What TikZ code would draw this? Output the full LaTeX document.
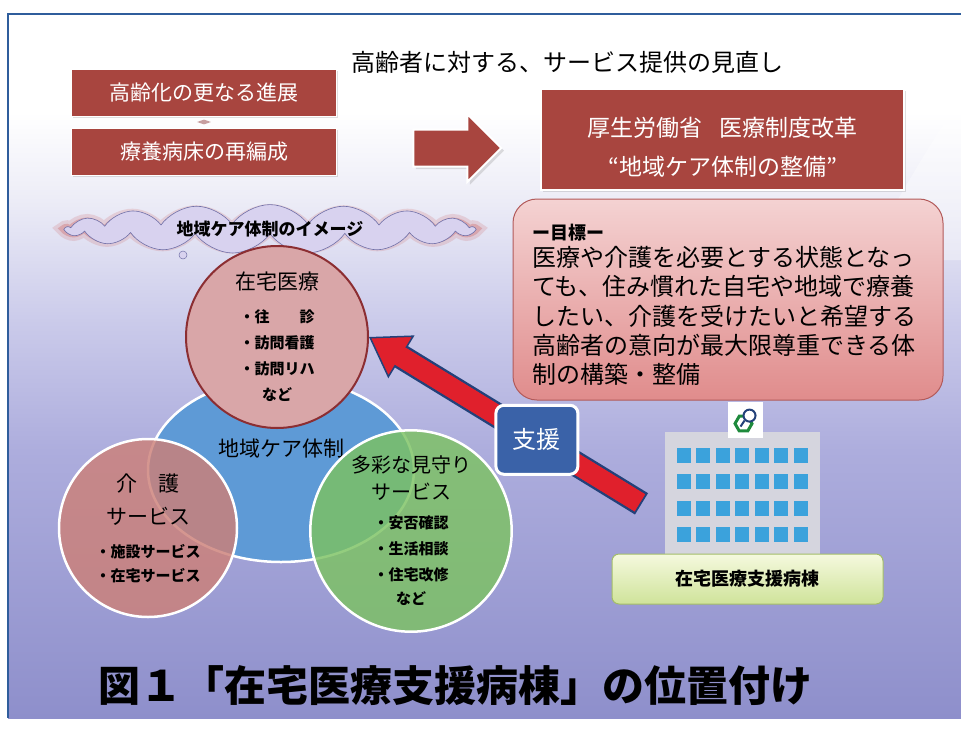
\documentclass[tikz,border=0pt]{standalone}
\usepackage{fontspec}
\setmainfont{Noto Sans CJK JP}
\usetikzlibrary{shapes, shapes.geometric, shapes.symbols, shapes.arrows, arrows.meta, positioning, calc, shadows}
\definecolor{boxred}{HTML}{A8453F}
\definecolor{goaltop}{HTML}{F4D2D2}
\definecolor{goalbottom}{HTML}{E08C8C}
\definecolor{goalline}{HTML}{B25A5A}
\definecolor{cloudfill}{HTML}{D8D2EF}
\definecolor{cloudline}{HTML}{7070A8}
\definecolor{cloudglow}{HTML}{CC6464}
\definecolor{homepink}{HTML}{D9A6A8}
\definecolor{homeline}{HTML}{8C2E32}
\definecolor{careblue}{HTML}{5E9AD6}
\definecolor{nursepink}{HTML}{CC8078}
\definecolor{watchgreen}{HTML}{7CC262}
\definecolor{arrowred}{HTML}{E0202C}
\definecolor{arrowblue}{HTML}{23417A}
\definecolor{helpblue}{HTML}{3A62A8}
\definecolor{buildgray}{HTML}{D5D5DE}
\definecolor{windowblue}{HTML}{3BA2DC}
\definecolor{logogreen}{HTML}{1E8A3C}
\definecolor{labeltop}{HTML}{F5F9DE}
\definecolor{labelbottom}{HTML}{CFE39A}
\definecolor{labelline}{HTML}{A3BD68}
\definecolor{framecol}{HTML}{2F5D9C}
\definecolor{bgbottom}{HTML}{8E8FCB}
\definecolor{bgmid}{HTML}{ADADDD}
\definecolor{bglight}{HTML}{CACAEA}
\definecolor{bgpale}{HTML}{EDEDF7}
\pgfdeclareverticalshading{bgshade}{100bp}{color(0bp)=(bgbottom); color(25bp)=(bgbottom); color(44bp)=(bgmid); color(53bp)=(bglight); color(62bp)=(bgpale); color(68bp)=(white); color(100bp)=(white)}

\begin{document}
\begin{tikzpicture}[x=1pt, y=-1pt,
                    node distance=11pt and 20pt,
                    redbox/.style={rectangle, draw=white, line width=1pt, fill=boxred, text=white, minimum height=47pt, minimum width=265pt, font=\fontsize{21}{25}\selectfont, drop shadow={opacity=0.25, shadow xshift=1.5pt, shadow yshift=-1.5pt}},
                    bigarrow/.style={single arrow, single arrow head extend=15.5pt, inner xsep=0pt, inner ysep=17.5pt, minimum height=88pt, fill=boxred, draw=white, line width=2pt, drop shadow={opacity=0.25}},
                    goalbox/.style={rectangle, rounded corners=24pt, draw=goalline, line width=1pt, top color=goaltop, bottom color=goalbottom, minimum width=430pt, minimum height=201pt, text width=392pt, inner xsep=19pt, align=left, font=\fontsize{24}{29.25}\selectfont},
                    imagecloud/.style={cloud, cloud puffs=17, cloud puff arc=110, aspect=11, minimum width=408pt, minimum height=36pt, inner sep=0pt},
                    homecare/.style={circle, draw=homeline, line width=2pt, fill=homepink, minimum size=182pt, align=center, font=\fontsize{15}{26}\selectfont\bfseries},
                    service/.style={circle, draw=white, line width=2.5pt, fill opacity=0.82, text opacity=1, minimum size=178pt, align=center, font=\fontsize{15}{24}\selectfont\bfseries},
                    helpbox/.style={rectangle, rounded corners=8pt, draw=white, line width=3pt, fill=helpblue, text=white, minimum width=82pt, minimum height=69pt, font=\fontsize{24}{28}\selectfont},
                    wardbox/.style={rectangle, rounded corners=7pt, draw=labelline, line width=1pt, top color=labeltop, bottom color=labelbottom, minimum width=271pt, minimum height=50pt, font=\fontsize{18}{22}\selectfont\bfseries}]

    \useasboundingbox (0,0) rectangle (961,731);
    \fill[white] (0,0) rectangle (961,731);

    % background and frame
    \shade[shading=bgshade] (8,14) rectangle (961,718);
    \fill[white, opacity=0.35] (860,260) .. controls (900,200) and (930,140) .. (961,100) -- (961,260) -- cycle;
    \draw[framecol, line width=1.5pt] (961,14) -- (8,14) -- (8,718);

    % heading
    \node[font=\fontsize{24}{28}\selectfont] (heading) at (567,62) {高齢者に対する、サービス提供の見直し};

    % background boxes
    \node[redbox] (ageing) at (204,92.5) {高齢化の更なる進展};
    \node[redbox, below=of ageing] (ward) {療養病床の再編成};
    \node[diamond, aspect=3, minimum width=14pt, minimum height=5pt, inner sep=0pt, fill=homepink!80!gray] (link) at ($(ageing.south)!0.5!(ward.north)$) {};

    \node[bigarrow] (shift) at (448,148) {};

    \node[redbox, minimum width=363pt, minimum height=101pt, line width=2pt, font=\fontsize{23}{33}\selectfont, align=center] (ministry) at (722.5,139.5) {\rule{0pt}{34pt}厚生労働省\hspace{0.7em}医療制度改革\\[6pt]“地域ケア体制の整備”};

    \node[goalbox] (goal) at (728,299.5) {{\fontsize{18}{20}\selectfont\bfseries\rule{0pt}{26pt}ー目標ー}\\[-2pt]医療や介護を必要とする状態となっ\\ても、住み慣れた自宅や地域で療養\\したい、介護を受けたいと希望する\\高齢者の意向が最大限尊重できる体\\制の構築・整備};

    % cloud with its glow
    \node[imagecloud, draw=cloudglow, line width=14pt, draw opacity=0.2] (halo) at (270,229) {};
    \node[imagecloud, draw=cloudglow, line width=7pt, draw opacity=0.35] (halo2) at (270,229) {};
    \node[imagecloud, draw=cloudline, line width=0.6pt, fill=cloudfill, font=\fontsize{17}{20}\selectfont\bfseries] (image) at (270,229) {地域ケア体制のイメージ};
    \node[circle, draw=cloudline, line width=0.5pt, fill=cloudfill, minimum size=8pt, inner sep=0pt] (bubble) at (183,255) {};

    % circles
    \node[ellipse, draw=white, line width=2.5pt, fill=careblue, minimum width=266pt, minimum height=184pt] (care) at (281,470) {};
    \node[font=\fontsize{21}{24}\selectfont] (carelabel) at ([yshift=21pt]care.center) {地域ケア体制};

    \node[homecare] (zaitaku) at (277,337) {{\mdseries\fontsize{21}{24}\selectfont 在宅医療}\\[7pt]・往\hspace{2em}診\\・訪問看護\\・訪問リハ\\など};

    \node[service, fill=nursepink] (nursing) at (148,528) {{\mdseries\fontsize{21}{24}\selectfont 介\hspace{1em}護}\\[9pt]{\mdseries\fontsize{21}{24}\selectfont サービス}\\[9pt]・施設サービス\\・在宅サービス};

    \node[service, fill=watchgreen, minimum size=182pt] (watch) at (411,531) {{\mdseries\fontsize{20}{24}\selectfont 多彩な見守り}\\[3pt]{\mdseries\fontsize{20}{24}\selectfont サービス}\\[5pt]・安否確認\\[2pt]・生活相談\\[2pt]・住宅改修\\など};

    % hospital building
    \node[rectangle, fill=buildgray, minimum width=155pt, minimum height=123pt, inner sep=0pt] (building) at (742.5,493.5) {};
    \node[rectangle, fill=white, minimum width=35pt, minimum height=36pt, inner sep=0pt, anchor=south] (tower) at ([xshift=3pt, yshift=-6pt]building.north) {};
    \node[regular polygon, regular polygon sides=6, draw=logogreen, line width=3pt, minimum size=17pt, inner sep=0pt] (logohex) at ([xshift=-2pt, yshift=-4pt]tower.center) {};
    \node[circle, draw=arrowblue, line width=2pt, fill=white, minimum size=12pt, inner sep=0pt] (logop) at ([xshift=4pt, yshift=4pt]tower.center) {};
    \draw[arrowblue, line width=2pt] (logop.south west) -- ++(-4,6);
    \foreach \col in {0,...,6}
        \foreach \row in {0,...,3}
            \fill[windowblue] ($(building.north west)+(12+\col*19.5, 16+\row*26.5)$) rectangle ++(14,15);

    \node[wardbox] (wardlabel) at (747.5,579) {在宅医療支援病棟};

    % support arrow
    \coordinate (supporttail) at ([xshift=-25pt, yshift=-71pt]building.north west);
    \draw[arrowblue, line width=25pt, shorten >=36pt, shorten <=-2pt] (supporttail) -- (zaitaku.east);
    \draw[arrowred, line width=20pt, -{Triangle[length=38pt, width=50pt, color=arrowblue, fill=arrowred, line width=1.5pt]}] (supporttail) -- (zaitaku.east);
    \draw[arrowred, line width=20pt, shorten >=35pt] (supporttail) -- (zaitaku.east)
        node[helpbox, pos=0.38] (support) {支援};

    % figure title
    \node[font=\fontsize{42}{46}\selectfont\bfseries] (figtitle) at (455,686) {図１「在宅医療支援病棟」の位置付け};

\end{tikzpicture}
\end{document}
